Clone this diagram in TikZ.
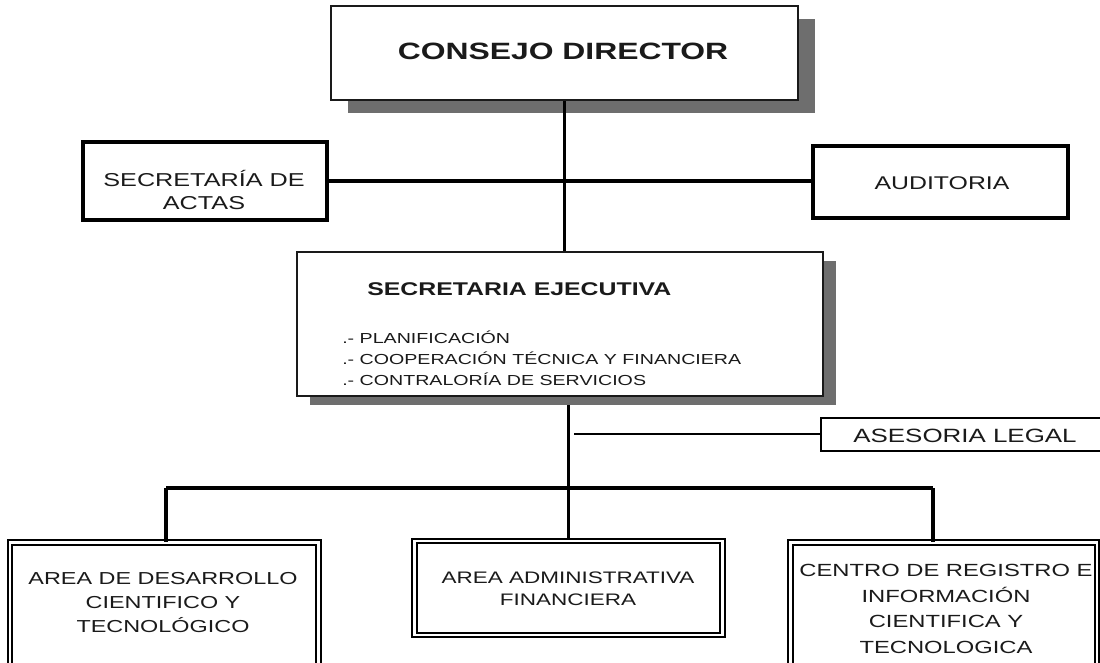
\documentclass[tikz,border=0pt]{standalone}
\usepackage{fontspec}
\setmainfont[FakeStretch=1.35]{Liberation Sans}
\usetikzlibrary{fit}
\definecolor{shadowgray}{HTML}{6E6E6E}
\definecolor{ink}{HTML}{1A1A1A}
\begin{document}
\begin{tikzpicture}[x=0.75pt,y=-0.75pt,
  box/.style={draw=ink, fill=white, inner sep=0pt, line width=1.5pt},
  thickbox/.style={draw=black, fill=white, inner sep=0pt, line width=2.4pt},
  dblbox/.style={draw=black, fill=white, double=white, double distance=2.2pt, line width=1.2pt, inner sep=0pt},
  shadowbox/.style={fill=shadowgray, draw=none, inner sep=0pt},
  conn/.style={draw=black, line width=2.6pt},
  thinconn/.style={draw=black, line width=1.9pt},
  lbl/.style={text=ink, inner sep=0pt, align=center},
]
\useasboundingbox (0,0) rectangle (1100,662);
\clip (0,0) rectangle (1100,662);

% Consejo Director
\node[shadowbox, fit={(348,19) (815,113)}] (cdsh) {};
\node[box, fit={(331,6) (798,100)}] (cd) {};
\node[lbl, font=\bfseries\fontsize{17.7}{21}\selectfont] (cdt) at (563,51) {CONSEJO DIRECTOR};

% Secretaria de actas / Auditoria
\node[thickbox, fit={(83,142) (327,220)}] (actas) {};
\node[lbl, font=\fontsize{14}{17}\selectfont] (actast) at (204,190) {SECRETARÍA DE\\ACTAS};
\node[thickbox, fit={(813,146) (1068,218)}] (audit) {};
\node[lbl, font=\fontsize{13.8}{17}\selectfont] (auditt) at (942,183) {AUDITORIA};

% Secretaria ejecutiva
\node[shadowbox, fit={(310,261) (836,405)}] (sesh) {};
\node[box, fit={(297,252) (823,396)}] (se) {};
\node[lbl, anchor=west, font=\bfseries\fontsize{13.8}{17}\selectfont] (set) at (367,289) {SECRETARIA EJECUTIVA};
\node[lbl, anchor=west, align=left, font=\fontsize{10.9}{15.75}\selectfont] (seitems) at (342,358)
  {.- PLANIFICACIÓN\\.- COOPERACIÓN TÉCNICA Y FINANCIERA\\.- CONTRALORÍA DE SERVICIOS};

% Asesoria legal
\node[box, draw=black, line width=1.9pt, fit={(821,418) (1115,451)}] (ase) {};
\node[lbl, font=\fontsize{14.4}{17}\selectfont] (aset) at (965,436) {ASESORIA LEGAL};

% Bottom areas
\node[dblbox, fit={(10,542.5) (318.5,668)}] (left) {};
\node[lbl, font=\fontsize{13}{18}\selectfont] (leftt) at (163,603) {AREA DE DESARROLLO\\CIENTIFICO Y\\TECNOLÓGICO};
\node[dblbox, fit={(414.5,541) (722.5,635)}] (mid) {};
\node[lbl, font=\fontsize{12.5}{16.5}\selectfont] (midt) at (568,589) {AREA ADMINISTRATIVA\\FINANCIERA};
\node[dblbox, fit={(790.5,542.5) (1097,668)}] (right) {};
\node[lbl, font=\fontsize{13.2}{19.3}\selectfont] (rightt) at (946,609) {CENTRO DE REGISTRO E\\INFORMACIÓN\\CIENTIFICA Y\\TECNOLOGICA};

% Connectors
\draw[conn] (cd.south) -- (cd.south |- se.north);
\draw[conn] (actas.east) -- (actas.east -| audit.west);
\coordinate (busL) at (166,488);
\coordinate (busR) at (933,488);
\draw[conn] (sesh.south -| mid.north) -- (mid.north);
\coordinate (asej) at (574,434);
\draw[thinconn] (asej) -- (asej -| ase.west);
\draw[conn] (busL) -- (busR);
\draw[conn] (busL) -- (busL |- left.north);
\draw[conn] (busR) -- (busR |- right.north);
\end{tikzpicture}
\end{document}
